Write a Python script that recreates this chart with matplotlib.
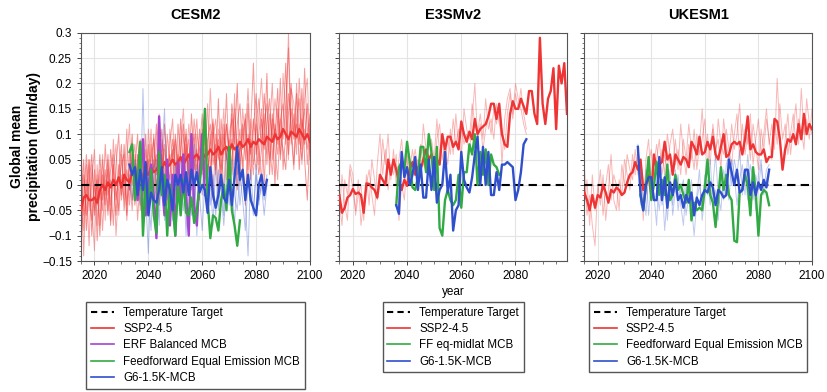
import numpy as np
import matplotlib
matplotlib.use("Agg")
from matplotlib import pyplot as plt
from matplotlib.lines import Line2D
from matplotlib.ticker import MultipleLocator, FuncFormatter

plt.rcParams['font.family'] = ['Liberation Sans', 'DejaVu Sans']

# ---------------- data (mm/day anomalies) ----------------
panel_names = ["CESM2", "E3SMv2", "UKESM1"]

# CESM2 : ensemble mean SSP2-4.5, from 2015
cesm_ssp_start = 2015
cesm_ssp_mean = [-0.05, -0.025, -0.02, -0.03, -0.03, -0.025, -0.035, -0.01, 0.0, -0.01,
                 0.005, -0.005, 0.01, 0.0, 0.015, -0.005, 0.02, 0.01, 0.005, 0.025,
                 0.015, 0.02, 0.03, 0.015, 0.025, 0.02, 0.035, 0.025, 0.03, 0.04,
                 0.03, 0.045, 0.035, 0.04, 0.05, 0.04, 0.045, 0.055, 0.04, 0.05,
                 0.06, 0.045, 0.055, 0.06, 0.05, 0.065, 0.055, 0.06, 0.07, 0.06,
                 0.065, 0.075, 0.06, 0.07, 0.075, 0.065, 0.08, 0.07, 0.075, 0.085,
                 0.075, 0.08, 0.09, 0.075, 0.085, 0.08, 0.09, 0.085, 0.08, 0.095,
                 0.09, 0.085, 0.1, 0.09, 0.095, 0.11, 0.1, 0.09, 0.105, 0.1,
                 0.095, 0.11, 0.1, 0.09, 0.1, 0.085]
# CESM2 individual SSP2-4.5 members
cesm_ssp_m1 = [-0.08, 0.02, -0.06, 0.05, -0.1, 0.0, -0.04, 0.06, -0.03, 0.03,
               -0.05, 0.07, 0.01, -0.06, 0.04, -0.02, 0.08, -0.04, 0.03, 0.1,
               -0.02, 0.06, -0.05, 0.09, 0.0, 0.05, -0.03, 0.1, 0.02, 0.07,
               -0.01, 0.12, 0.03, 0.06, -0.02, 0.1, 0.04, 0.13, 0.0, 0.08,
               0.02, 0.14, 0.05, 0.01, 0.11, 0.03, 0.15, 0.06, 0.0, 0.12,
               0.04, 0.17, 0.02, 0.1, 0.06, 0.0, 0.14, 0.08, 0.2, 0.03,
               0.12, 0.05, 0.16, 0.01, 0.11, 0.18, 0.04, 0.13, 0.07, 0.22,
               0.02, 0.14, 0.09, 0.19, 0.05, 0.12, 0.24, 0.06, 0.15, 0.1,
               0.18, 0.03, 0.13, 0.08, 0.16, 0.05]
cesm_ssp_m2 = [0.03, -0.09, 0.01, -0.12, 0.04, -0.05, 0.02, -0.08, 0.05, -0.02,
               0.03, -0.07, 0.09, -0.01, -0.05, 0.06, 0.0, 0.11, -0.04, 0.04,
               0.08, -0.03, 0.04, -0.06, 0.07, 0.02, 0.11, -0.02, 0.05, 0.0,
               0.09, 0.03, -0.04, 0.08, 0.13, 0.01, 0.06, -0.03, 0.1, 0.05,
               0.09, -0.01, 0.07, 0.13, 0.02, 0.08, 0.04, 0.16, 0.03, 0.09,
               0.13, 0.05, 0.1, -0.02, 0.12, 0.07, 0.02, 0.15, 0.06, 0.11,
               0.03, 0.1, 0.19, 0.07, 0.02, 0.12, 0.17, 0.08, 0.14, 0.04,
               0.11, 0.2, 0.07, 0.01, 0.13, 0.09, 0.16, 0.27, 0.08, 0.14,
               0.06, 0.21, 0.11, 0.15, 0.04, 0.12]
cesm_ssp_m3 = [-0.12, -0.03, 0.06, -0.02, -0.07, 0.03, -0.11, 0.0, -0.05, 0.08,
               -0.02, 0.01, -0.08, 0.04, 0.1, -0.03, 0.02, -0.06, 0.07, 0.0,
               0.03, 0.1, -0.01, 0.05, -0.04, 0.08, 0.0, 0.04, 0.12, -0.02,
               0.06, 0.0, 0.1, 0.04, 0.07, -0.03, 0.12, 0.05, 0.02, 0.11,
               -0.01, 0.06, 0.1, 0.03, 0.07, 0.14, 0.01, 0.09, 0.12, 0.04,
               0.08, -0.02, 0.13, 0.06, 0.18, 0.04, 0.09, 0.0, 0.12, 0.16,
               0.07, 0.14, 0.03, 0.11, 0.24, 0.06, 0.1, 0.15, 0.0, 0.12,
               0.17, 0.05, 0.12, 0.08, 0.21, 0.03, 0.1, 0.18, 0.12, 0.04,
               0.13, 0.17, 0.07, 0.23, 0.1, 0.14]
cesm_ssp_m4 = [0.08, -0.06, -0.02, 0.05, -0.04, -0.13, 0.04, -0.03, 0.06, -0.07,
               0.05, -0.04, 0.03, 0.08, -0.06, 0.02, -0.03, 0.05, 0.12, -0.03,
               0.0, 0.05, 0.09, 0.02, -0.05, 0.11, 0.04, -0.01, 0.08, 0.14,
               0.02, 0.07, 0.0, 0.11, 0.05, 0.08, -0.02, 0.09, 0.15, 0.03,
               0.12, 0.05, -0.02, 0.1, 0.07, 0.02, 0.11, 0.05, 0.19, 0.08,
               0.02, 0.11, 0.07, 0.15, 0.01, 0.1, 0.13, 0.04, 0.09, 0.0,
               0.15, 0.09, 0.05, 0.13, 0.07, 0.03, 0.14, 0.21, 0.1, 0.06,
               0.14, 0.09, 0.17, 0.12, 0.06, 0.22, 0.13, 0.05, 0.19, 0.16,
               0.09, 0.12, 0.04, 0.17, 0.21, 0.07]
cesm_ssp_m5 = [-0.04, 0.05, -0.09, 0.0, 0.06, -0.06, 0.01, -0.1, 0.02, -0.04,
               0.06, -0.08, 0.04, -0.03, 0.02, 0.08, -0.05, 0.03, -0.01, 0.06,
               -0.04, 0.02, 0.06, -0.02, 0.1, -0.01, 0.05, 0.09, -0.04, 0.06,
               0.11, -0.03, 0.05, 0.01, 0.09, 0.04, 0.0, 0.07, 0.12, -0.02,
               0.05, 0.1, 0.03, 0.07, -0.03, 0.11, 0.06, 0.02, 0.08, 0.13,
               0.03, 0.09, 0.0, 0.07, 0.12, 0.05, 0.16, 0.1, -0.01, 0.08,
               0.05, -0.04, 0.1, 0.06, 0.13, 0.08, 0.02, 0.07, 0.18, 0.1,
               0.05, 0.13, 0.0, 0.15, 0.1, 0.07, 0.03, 0.14, 0.2, 0.09,
               0.12, 0.08, 0.19, 0.05, -0.03, 0.1]
cesm_ssp_m6 = [0.02, -0.14, 0.04, -0.05, 0.01, 0.07, -0.08, 0.03, -0.09, 0.01,
               -0.06, 0.03, 0.06, -0.1, 0.0, 0.04, 0.06, -0.07, 0.01, -0.05,
               0.06, -0.07, 0.02, 0.07, 0.03, -0.06, 0.08, 0.03, 0.06, -0.04,
               0.04, 0.08, 0.02, -0.05, 0.06, 0.09, 0.03, 0.01, 0.06, 0.1,
               0.0, 0.04, 0.13, 0.06, 0.0, 0.05, 0.09, 0.02, 0.1, -0.03,
               0.1, 0.06, 0.03, 0.12, 0.05, 0.09, 0.04, 0.18, 0.02, 0.07,
               0.1, 0.13, 0.0, 0.09, 0.04, 0.12, 0.07, 0.01, 0.11, 0.16,
               0.08, 0.02, 0.11, 0.06, 0.13, 0.16, 0.08, 0.3, 0.1, 0.03,
               0.2, 0.1, 0.05, 0.11, 0.07, 0.13]

# CESM2 : ERF balanced MCB, from 2035
cesm_erf_start = 2035
cesm_erf = [0.01, -0.03, 0.02, 0.09, -0.06, 0.0, 0.04, -0.02, -0.105, 0.135,
            0.0, -0.06, 0.05, -0.08, 0.02, -0.1, 0.045, -0.03, 0.06, -0.02,
            -0.1, 0.1, -0.04, -0.08, 0.02, 0.1, -0.02]

# CESM2 : feedforward equal emission MCB, from 2033
cesm_ff_start = 2033
cesm_ff = [0.065, 0.08, -0.03, 0.01, 0.085, -0.1, 0.0, -0.05, 0.03, -0.06,
           -0.095, 0.065, -0.02, 0.02, -0.1, 0.0, -0.04, -0.1, 0.0, -0.06,
           0.01, -0.055, -0.06, -0.025, -0.075, -0.05, 0.0, 0.05, 0.15, -0.03,
           -0.105, -0.06, -0.065, -0.09, -0.03, 0.0, -0.05, 0.075, -0.05, -0.08,
           -0.12, -0.07]

# CESM2 : G6-1.5K-MCB mean and members, from 2033
cesm_g6_start = 2033
cesm_g6 = [0.04, 0.02, 0.035, -0.02, 0.03, -0.01, 0.045, -0.06, -0.015, -0.03,
           -0.035, -0.01, 0.035, -0.04, 0.01, -0.01, -0.05, 0.02, 0.0, 0.02,
           -0.015, 0.025, -0.02, 0.03, 0.0, 0.025, -0.015, 0.0, -0.01, -0.055,
           0.035, -0.02, -0.045, -0.02, 0.02, -0.025, -0.035, 0.01, -0.04, 0.015,
           0.075, 0.01, 0.03, -0.03, 0.02, -0.03, -0.045, -0.06, 0.0, 0.02,
           -0.02, 0.01]
cesm_g6_m1 = [0.02, -0.03, 0.05, 0.0, -0.04, 0.19, -0.02, -0.135, 0.03, -0.06,
              0.01, -0.08, 0.06, 0.15, -0.03, 0.02, -0.07, 0.04, -0.01, 0.05,
              -0.05, 0.0, 0.06, -0.06, 0.08, -0.1, 0.03, -0.02, 0.05, -0.03,
              0.01, -0.08, 0.04, -0.05, 0.02, -0.06, 0.07, -0.02, 0.0, -0.08,
              0.04, -0.04, 0.02, -0.03, -0.14, 0.03, -0.05, 0.02, -0.03, 0.0,
              -0.06, 0.0]
cesm_g6_m2 = [-0.01, 0.06, -0.02, 0.03, 0.08, -0.05, 0.04, -0.02, -0.09, 0.05,
              0.0, -0.04, 0.03, -0.07, 0.04, -0.02, 0.01, -0.09, 0.05, -0.03,
              0.02, -0.1, 0.03, 0.0, -0.05, 0.04, -0.02, -0.09, 0.01, 0.04,
              -0.04, 0.02, -0.06, 0.03, -0.01, -0.08, 0.0, -0.04, 0.05, -0.02,
              -0.05, 0.02, -0.03, -0.09, 0.01, -0.02, -0.06, 0.04, -0.04, 0.01,
              -0.03, 0.02]

# E3SMv2 : SSP2-4.5 main run (2015-2099) and two more members (2015-2084)
e3sm_ssp_start = 2015
e3sm_ssp = [-0.02, -0.055, -0.045, -0.025, -0.02, -0.008, -0.018, -0.015, -0.02, -0.055,
            0.003, 0.002, -0.005, -0.01, -0.025, 0.02, 0.01, 0.0, 0.05, 0.02,
            0.05, 0.03, 0.005, -0.01, 0.01, -0.002, 0.03, 0.045, 0.02, 0.035,
            0.03, 0.05, 0.07, 0.05, 0.06, 0.045, 0.05, 0.04, 0.1, 0.07,
            0.095, 0.095, 0.075, 0.085, 0.07, 0.125, 0.1, 0.085, 0.105, 0.09,
            0.13, 0.1, 0.11, 0.115, 0.12, 0.135, 0.16, 0.16, 0.13, 0.16,
            0.1, 0.08, 0.075, 0.14, 0.165, 0.15, 0.15, 0.17, 0.155, 0.14,
            0.185, 0.185, 0.14, 0.12, 0.29, 0.16, 0.12, 0.17, 0.185, 0.23,
            0.11, 0.235, 0.2, 0.24, 0.14]
e3sm_ssp_m1 = [-0.06, 0.02, -0.04, -0.07, 0.03, -0.01, -0.05, 0.01, -0.08, -0.03,
               0.0, 0.03, -0.02, -0.06, 0.04, 0.1, 0.02, 0.07, -0.01, 0.04,
               0.02, 0.06, -0.07, 0.0, -0.03, 0.05, 0.01, 0.04, 0.07, 0.03,
               0.08, 0.04, 0.03, 0.1, 0.06, 0.02, 0.09, 0.12, 0.05, 0.08,
               0.04, 0.11, 0.06, 0.14, 0.07, 0.12, 0.08, 0.1, 0.06, 0.13,
               0.2, 0.09, 0.12, 0.07, 0.11, 0.14, 0.1, 0.15, 0.12, 0.16,
               0.04, 0.13, 0.17, 0.19, 0.14, 0.2, 0.17, 0.15, 0.12, 0.1]
e3sm_ssp_m2 = [-0.03, -0.08, 0.01, -0.02, 0.04, 0.02, -0.06, -0.02, 0.0, -0.07,
               0.02, -0.04, 0.05, 0.01, -0.03, 0.0, 0.09, 0.04, 0.1, 0.01,
               0.07, 0.0, 0.05, 0.09, 0.02, 0.06, 0.03, 0.07, 0.02, 0.05,
               0.04, 0.12, 0.07, 0.02, 0.09, 0.05, 0.13, 0.06, 0.1, 0.04,
               0.09, 0.06, 0.13, 0.08, 0.11, 0.05, 0.15, 0.11, 0.09, 0.16,
               0.12, 0.1, 0.14, 0.09, 0.17, 0.11, 0.13, 0.09, 0.16, 0.12,
               0.1, 0.07, 0.14, 0.18, 0.13, 0.18, 0.15, 0.19, 0.14, 0.11]

# E3SMv2 : FF eq-midlat MCB (from 2036) and G6-1.5K-MCB (from 2036)
e3sm_ff_start = 2036
e3sm_ff = [-0.04, 0.035, 0.045, 0.03, 0.085, 0.045, -0.005, -0.01, 0.015, 0.075,
           0.075, 0.025, 0.1, 0.065, -0.01, 0.075, -0.085, -0.1, -0.03, -0.01,
           -0.03, -0.04, -0.03, 0.02, -0.045, 0.025, 0.025, 0.08, 0.06, 0.1,
           0.0, 0.065, 0.02, 0.07, 0.0, 0.06, 0.04, 0.035, 0.02]
e3sm_g6_start = 2036
e3sm_g6 = [-0.04, -0.057, 0.065, 0.015, 0.035, 0.0, 0.02, 0.055, -0.01, 0.04,
           -0.025, -0.025, 0.05, -0.01, 0.055, -0.035, -0.01, 0.0, 0.065, -0.015,
           0.02, -0.09, -0.05, -0.04, 0.065, 0.01, -0.005, -0.015, 0.015, 0.06,
           0.095, 0.0, 0.075, 0.0, 0.065, -0.02, -0.02, 0.025, -0.01, 0.04,
           0.04, 0.045, 0.04, 0.035, -0.03, -0.01, 0.025, 0.08, 0.09]

# UKESM1 : SSP2-4.5 mean and two members (2015-2100)
ukesm_ssp_start = 2015
ukesm_ssp = [-0.015, -0.03, -0.05, -0.02, -0.045, -0.02, -0.025, 0.0, -0.015, -0.035,
             -0.01, -0.015, -0.005, -0.01, -0.02, -0.015, 0.005, 0.02, 0.025, 0.045,
             0.03, 0.05, -0.01, 0.0, 0.02, -0.02, 0.06, 0.03, 0.04, 0.045,
             0.085, 0.05, 0.06, 0.02, 0.06, 0.05, 0.04, 0.055, 0.05, 0.035,
             0.085, 0.075, 0.06, 0.095, 0.06, 0.065, 0.085, 0.07, 0.095, 0.06,
             0.05, 0.075, 0.1, 0.055, 0.06, 0.08, 0.085, 0.08, 0.085, 0.06,
             0.09, 0.135, 0.07, 0.08, 0.065, 0.06, 0.06, 0.07, 0.045, 0.055,
             0.055, 0.13, 0.125, 0.09, 0.03, 0.07, 0.09, 0.085, 0.1, 0.08,
             0.12, 0.09, 0.14, 0.1, 0.12, 0.11]
ukesm_ssp_m1 = [0.04, -0.06, -0.02, -0.08, -0.12, 0.0, -0.04, 0.02, -0.07, -0.01,
                0.06, -0.03, -0.05, 0.01, -0.02, 0.05, 0.02, -0.01, 0.06, 0.02,
                0.07, 0.03, -0.07, 0.05, 0.09, 0.0, 0.04, 0.08, 0.03, 0.07,
                0.02, 0.1, 0.06, 0.04, 0.09, 0.03, 0.12, 0.06, 0.02, 0.08,
                0.05, 0.11, 0.03, 0.08, 0.15, 0.06, 0.1, 0.04, 0.12, 0.07,
                0.09, 0.03, 0.13, 0.08, 0.05, 0.12, 0.07, 0.1, 0.16, 0.06,
                0.11, 0.08, 0.14, 0.04, 0.09, 0.13, 0.06, 0.1, 0.15, 0.08,
                0.12, 0.07, 0.21, 0.1, 0.03, 0.09, 0.14, 0.06, 0.11, 0.16,
                0.08, 0.19, 0.1, 0.13, 0.09, 0.15]
ukesm_ssp_m2 = [-0.04, 0.01, -0.08, 0.02, -0.05, -0.02, 0.03, -0.06, 0.0, 0.04,
                -0.03, 0.02, 0.0, -0.05, 0.04, 0.0, 0.06, 0.03, 0.01, 0.07,
                0.02, 0.05, 0.01, -0.02, 0.04, 0.07, 0.01, 0.05, 0.09, 0.02,
                0.06, 0.03, 0.08, 0.11, 0.04, 0.07, 0.02, 0.09, 0.05, 0.12,
                0.07, 0.03, 0.1, 0.06, 0.09, 0.13, 0.04, 0.08, 0.11, 0.05,
                0.13, 0.08, 0.06, 0.11, 0.07, 0.04, 0.1, 0.14, 0.05, 0.12,
                0.06, 0.1, 0.05, 0.12, 0.08, 0.03, 0.11, 0.07, 0.13, 0.09,
                0.05, 0.13, 0.08, 0.16, 0.09, 0.12, 0.06, 0.1, 0.14, 0.08,
                0.13, 0.11, 0.07, 0.17, 0.12, 0.1]

# UKESM1 : feedforward equal emission MCB (from 2036), G6-1.5K-MCB (from 2035)
ukesm_ff_start = 2036
ukesm_ff = [-0.02, -0.05, 0.0, 0.055, -0.03, 0.0, 0.045, -0.02, 0.01, -0.02,
            0.04, -0.03, -0.02, 0.02, -0.01, 0.0, -0.02, -0.035, 0.01, -0.07,
            -0.035, -0.05, -0.045, -0.05, -0.005, 0.05, -0.02, -0.035, -0.083, -0.025,
            0.035, -0.01, 0.02, -0.02, -0.03, -0.11, -0.113, -0.015, -0.01, 0.02,
            0.0, -0.06, 0.035, -0.015, -0.1, -0.02, -0.01, -0.015, -0.04]
ukesm_g6_start = 2035
ukesm_g6 = [0.075, -0.02, -0.05, 0.0, 0.015, 0.015, -0.03, -0.03, 0.055, -0.03,
            0.015, -0.045, 0.005, -0.02, 0.01, -0.03, -0.02, -0.045, -0.02, -0.035,
            -0.015, -0.06, -0.025, -0.04, -0.02, -0.01, -0.015, 0.005, -0.005, -0.04,
            -0.01, -0.015, -0.025, -0.02, 0.05, 0.025, 0.0, 0.03, -0.015, -0.01,
            0.03, 0.03, -0.02, 0.005, -0.02, 0.005, -0.01, 0.01, -0.005, 0.03]
ukesm_g6_m1 = [0.08, 0.02, -0.05, 0.03, -0.06, 0.01, -0.02, -0.08, 0.04, -0.04,
               0.02, -0.07, 0.0, -0.04, 0.03, -0.05, -0.01, 0.01, -0.06, -0.02,
               -0.04, -0.1, -0.03, 0.0, -0.05, 0.02, -0.02, 0.05, -0.04, -0.01,
               -0.07, 0.02, -0.03, 0.04, 0.06, 0.0, 0.05, 0.02, 0.07, -0.02,
               0.03, -0.03, 0.04, 0.01, -0.05, 0.02, 0.05, -0.01, 0.03, 0.04]
ukesm_g6_m2 = [0.06, -0.04, 0.0, -0.06, 0.02, -0.03, 0.04, -0.01, -0.05, 0.01,
               -0.09, -0.02, 0.03, -0.06, -0.01, 0.02, -0.04, -0.08, 0.0, -0.03,
               0.01, -0.06, -0.02, 0.03, -0.07, -0.02, 0.01, -0.04, 0.0, 0.06,
               -0.02, -0.05, 0.03, 0.0, -0.03, 0.05, 0.02, -0.04, 0.01, 0.04,
               -0.02, 0.06, 0.0, -0.03, 0.02, -0.01, 0.04, -0.02, 0.01, 0.03]

x_limits = [(2015, 2100), (2015, 2099), (2015, 2100)]
y_ticks = [-0.15, -0.1, -0.05, 0, 0.05, 0.1, 0.15, 0.2, 0.25, 0.3]
x_ticks = [[2020, 2040, 2060, 2080, 2100], [2020, 2040, 2060, 2080], [2020, 2040, 2060, 2080, 2100]]

legend_labels = [
    ["Temperature Target", "SSP2-4.5", "ERF Balanced MCB", "Feedforward Equal Emission MCB", "G6-1.5K-MCB"],
    ["Temperature Target", "SSP2-4.5", "FF eq-midlat MCB", "G6-1.5K-MCB"],
    ["Temperature Target", "SSP2-4.5", "Feedforward Equal Emission MCB", "G6-1.5K-MCB"],
]

RED = "#ee3434"
PURPLE = "#a444cf"
GREEN = "#32aa44"
BLUE = "#2f4fcc"


def years(start, vals):
    return np.arange(start, start + len(vals))


def thick(ax, start, vals, color):
    ax.plot(years(start, vals), vals, color=color, lw=1.7, zorder=4)


def thin(ax, start, vals, color, alpha):
    ax.plot(years(start, vals), vals, color=color, lw=0.7, alpha=alpha, zorder=2)


fig = plt.figure(figsize=(8.27, 3.92), dpi=100)
lefts = [81 / 827, 339.3 / 827, 584.3 / 827]
widths = [229 / 827, 227.7 / 827, 227.7 / 827]
axes = [fig.add_axes([l, 1 - 261 / 392, w, 228.3 / 392]) for l, w in zip(lefts, widths)]

# --- CESM2
ax = axes[0]
for m, a in zip([cesm_ssp_m1, cesm_ssp_m2, cesm_ssp_m3, cesm_ssp_m4, cesm_ssp_m5, cesm_ssp_m6],
                [0.55, 0.45, 0.5, 0.4, 0.55, 0.45]):
    thin(ax, cesm_ssp_start, m, RED, a)
thick(ax, cesm_ssp_start, cesm_ssp_mean, RED)
thin(ax, cesm_g6_start, cesm_g6_m1, BLUE, 0.35)
thin(ax, cesm_g6_start, cesm_g6_m2, BLUE, 0.35)
thick(ax, cesm_erf_start, cesm_erf, PURPLE)
thick(ax, cesm_ff_start, cesm_ff, GREEN)
thick(ax, cesm_g6_start, cesm_g6, BLUE)

# --- E3SMv2
ax = axes[1]
thin(ax, e3sm_ssp_start, e3sm_ssp_m1, RED, 0.35)
thin(ax, e3sm_ssp_start, e3sm_ssp_m2, RED, 0.35)
thick(ax, e3sm_ssp_start, e3sm_ssp, RED)
thick(ax, e3sm_ff_start, e3sm_ff, GREEN)
thick(ax, e3sm_g6_start, e3sm_g6, BLUE)

# --- UKESM1
ax = axes[2]
thin(ax, ukesm_ssp_start, ukesm_ssp_m1, RED, 0.35)
thin(ax, ukesm_ssp_start, ukesm_ssp_m2, RED, 0.35)
thick(ax, ukesm_ssp_start, ukesm_ssp, RED)
thin(ax, ukesm_g6_start, ukesm_g6_m1, BLUE, 0.3)
thin(ax, ukesm_g6_start, ukesm_g6_m2, BLUE, 0.3)
thick(ax, ukesm_ff_start, ukesm_ff, GREEN)
thick(ax, ukesm_g6_start, ukesm_g6, BLUE)

colors_per_panel = [[RED, PURPLE, GREEN, BLUE], [RED, GREEN, BLUE], [RED, GREEN, BLUE]]

for i, ax in enumerate(axes):
    ax.axhline(0, color="black", lw=1.5, ls=(0, (4, 2.5)), zorder=3)
    ax.set_xlim(*x_limits[i])
    ax.set_ylim(-0.15, 0.3)
    ax.set_xticks(x_ticks[i])
    ax.set_yticks(y_ticks)
    ax.xaxis.set_minor_locator(MultipleLocator(5))
    ax.yaxis.set_minor_locator(MultipleLocator(0.01))
    ax.grid(True, which="major", color="#e4e4e4", lw=0.8)
    ax.set_axisbelow(True)
    ax.tick_params(labelsize=8.5, length=3, width=0.7, color="#444444")
    ax.tick_params(which="minor", length=1.8, width=0.5, color="#444444")
    for s in ax.spines.values():
        s.set_color("#555555")
        s.set_linewidth(0.8)
    if i == 0:
        ax.yaxis.set_major_formatter(FuncFormatter(lambda v, p: ("%g" % round(v, 2)).replace("-", "\u2212")))
    else:
        ax.set_yticklabels([])
    ax.set_title(panel_names[i], fontsize=10.5, fontweight="bold", pad=10)

    handles = [Line2D([], [], color="black", lw=1.5, ls=(0, (3, 2)))]
    handles += [Line2D([], [], color=c, lw=1.2) for c in colors_per_panel[i]]
    ax.legend(handles, legend_labels[i], loc="upper center",
              bbox_to_anchor=(0.5, -0.18), fontsize=8.3, frameon=True,
              fancybox=False, edgecolor="#555555", framealpha=1,
              handlelength=2.0, borderpad=0.4, labelspacing=0.38,
              borderaxespad=0)

axes[0].set_ylabel("Global mean\nprecipitation (mm/day)", fontsize=10, fontweight="bold", labelpad=1)
axes[1].set_xlabel("year", fontsize=8.5, labelpad=3)

fig.savefig("out.png", dpi=100)
